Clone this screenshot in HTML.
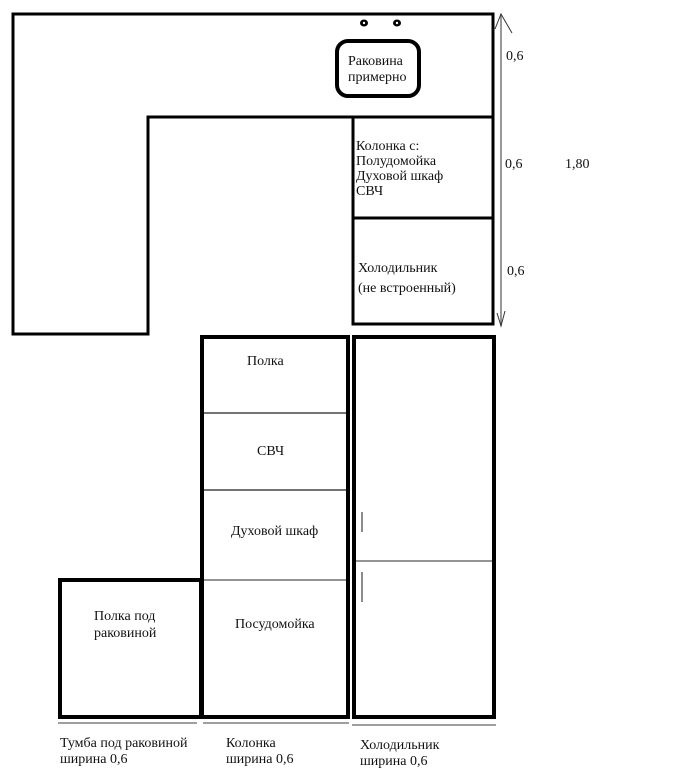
<!DOCTYPE html>
<html><head><meta charset="utf-8"><style>
html,body{margin:0;padding:0;background:#fff;}
svg{display:block;}
text{font-family:"Liberation Serif","Noto Serif CJK SC",serif;font-size:14px;fill:#111;}
</style></head><body>
<svg width="685" height="770" viewBox="0 0 685 770" xmlns="http://www.w3.org/2000/svg">
<rect width="685" height="770" fill="#fff"/>
<polygon points="13,14 493,14 493,117 148,117 148,334 13,334" fill="none" stroke="#000" stroke-width="3"/>
<rect x="353" y="117" width="140" height="101" fill="none" stroke="#000" stroke-width="3"/>
<rect x="353" y="218" width="140" height="106" fill="none" stroke="#000" stroke-width="3"/>
<rect x="337" y="41" width="82" height="55" rx="11" fill="none" stroke="#000" stroke-width="4"/>
<ellipse cx="364" cy="23" rx="4" ry="3.5" fill="#000"/>
<ellipse cx="397" cy="23" rx="4" ry="3.5" fill="#000"/>
<circle cx="364" cy="23" r="1.2" fill="#fff"/>
<circle cx="397" cy="23" r="1.2" fill="#fff"/>
<text x="348" y="65">Раковина</text>
<text x="348" y="81">примерно</text>
<text x="356" y="150">Колонка с:</text>
<text x="356" y="165">Полудомойка</text>
<text x="356" y="180">Духовой шкаф</text>
<text x="356" y="195">СВЧ</text>
<text x="358" y="272">Холодильник</text>
<text x="358" y="292">(не встроенный)</text>
<line x1="501" y1="14" x2="501" y2="326" stroke="#777" stroke-width="1.5"/>
<polyline points="495,29 501,14 512,33" fill="none" stroke="#333" stroke-width="1"/>
<polyline points="497,313 501,326 505,311" fill="none" stroke="#333" stroke-width="1"/>
<text x="506" y="60">0,6</text>
<text x="505" y="168">0,6</text>
<text x="565" y="168">1,80</text>
<text x="507" y="275">0,6</text>
<rect x="202" y="337" width="146" height="380" fill="none" stroke="#000" stroke-width="4"/>
<line x1="204" y1="413" x2="346" y2="413" stroke="#222" stroke-width="1.2"/>
<line x1="204" y1="490" x2="346" y2="490" stroke="#222" stroke-width="1.2"/>
<line x1="204" y1="580" x2="346" y2="580" stroke="#555" stroke-width="1.2"/>
<text x="247" y="365">Полка</text>
<text x="257" y="455">СВЧ</text>
<text x="231" y="535">Духовой шкаф</text>
<text x="235" y="628">Посудомойка</text>
<rect x="354" y="337" width="140" height="380" fill="none" stroke="#000" stroke-width="4"/>
<line x1="356" y1="561" x2="492" y2="561" stroke="#555" stroke-width="1.2"/>
<line x1="362" y1="512" x2="362" y2="532" stroke="#666" stroke-width="1.5"/>
<line x1="362" y1="572" x2="362" y2="602" stroke="#666" stroke-width="1.5"/>
<rect x="60" y="580" width="141" height="137" fill="none" stroke="#000" stroke-width="4"/>
<text x="94" y="620">Полка под</text>
<text x="94" y="637">раковиной</text>
<line x1="58" y1="723" x2="197" y2="723" stroke="#666" stroke-width="1.2"/>
<line x1="203" y1="723" x2="349" y2="723" stroke="#666" stroke-width="1.2"/>
<line x1="352" y1="725" x2="496" y2="725" stroke="#666" stroke-width="1.2"/>
<text x="60" y="747">Тумба под раковиной</text>
<text x="60" y="763">ширина 0,6</text>
<text x="226" y="747">Колонка</text>
<text x="226" y="763">ширина 0,6</text>
<text x="360" y="749">Холодильник</text>
<text x="360" y="765">ширина  0,6</text>
</svg>
</body></html>
